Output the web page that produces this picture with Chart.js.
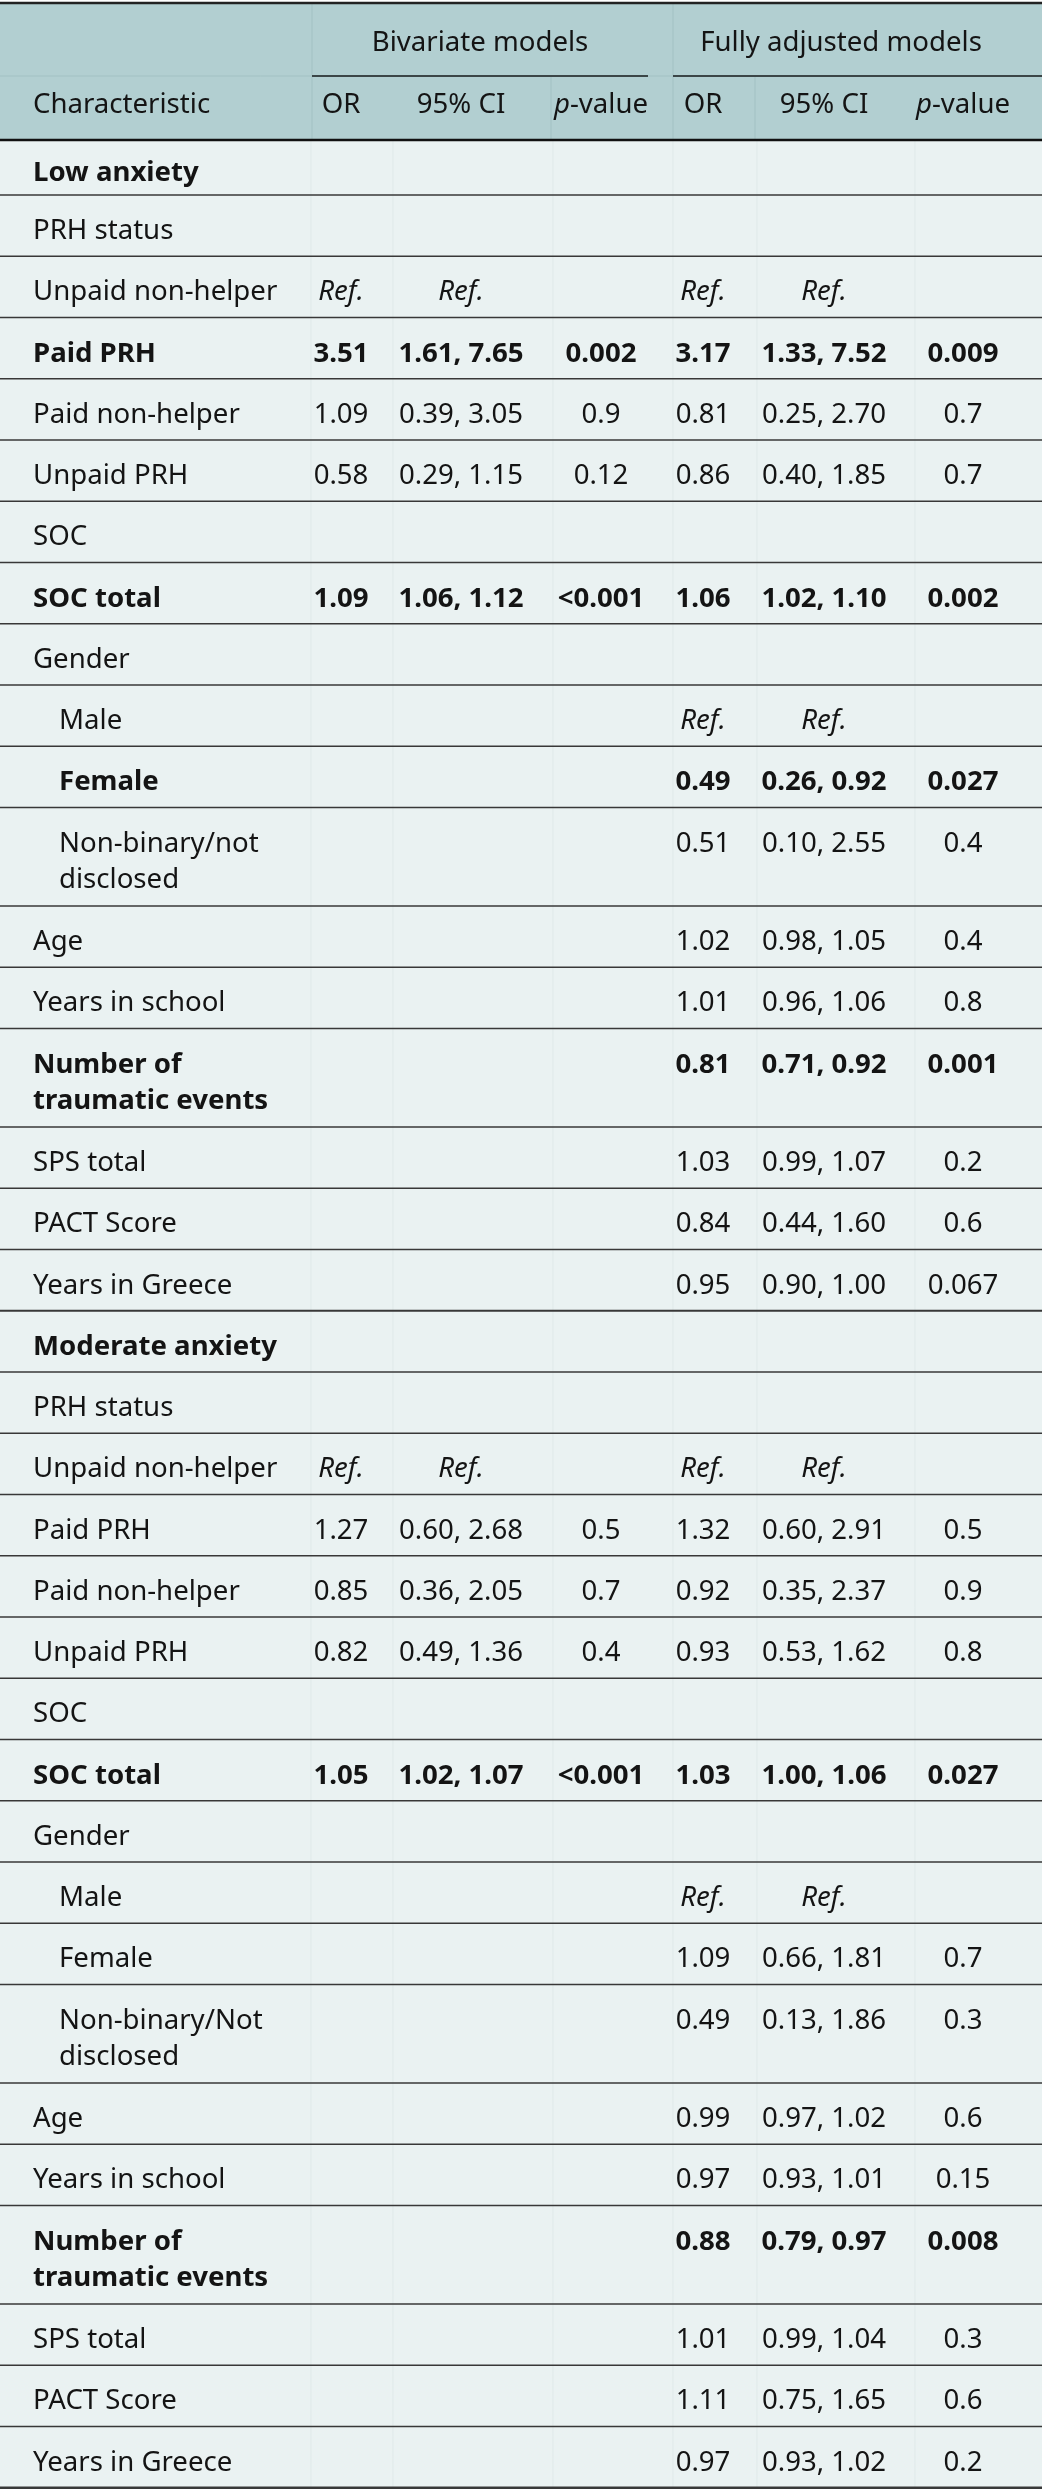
<!DOCTYPE html>
<html>
<head>
<meta charset="utf-8">
<title>Odds ratios for low and moderate anxiety</title>
<script src="https://cdn.jsdelivr.net/npm/chart.js@4.4.1/dist/chart.umd.min.js"></script>
<style>
  html, body { margin: 0; padding: 0; background: #ffffff; }
  #wrap { width: 1042px; height: 2492px; position: relative; }
</style>
</head>
<body>
<div id="wrap"><canvas id="oddsTable"></canvas></div>
<script>
const groupLabels = ['Bivariate models', 'Fully adjusted models'];
const columnLabels = ['OR', '95% CI', 'p-value', 'OR', '95% CI', 'p-value'];
const firstColumnLabel = 'Characteristic';

const characteristics = [
  'Low anxiety', 'PRH status', 'Unpaid non-helper', 'Paid PRH', 'Paid non-helper', 'Unpaid PRH',
  'SOC', 'SOC total', 'Gender', 'Male', 'Female', 'Non-binary/not disclosed', 'Age',
  'Years in school', 'Number of traumatic events', 'SPS total', 'PACT Score', 'Years in Greece',
  'Moderate anxiety', 'PRH status', 'Unpaid non-helper', 'Paid PRH', 'Paid non-helper', 'Unpaid PRH',
  'SOC', 'SOC total', 'Gender', 'Male', 'Female', 'Non-binary/Not disclosed', 'Age',
  'Years in school', 'Number of traumatic events', 'SPS total', 'PACT Score', 'Years in Greece'
];
// 0 = outcome heading, 1 = variable, 2 = level nested under Gender
const rowLevel = [0, 1, 1, 1, 1, 1, 1, 1, 1, 2, 2, 2, 1, 1, 1, 1, 1, 1,
                  0, 1, 1, 1, 1, 1, 1, 1, 1, 2, 2, 2, 1, 1, 1, 1, 1, 1];

const bivOR = ['', '', 'Ref.', '3.51', '1.09', '0.58', '', '1.09', '', '', '', '', '', '', '', '', '', '',
               '', '', 'Ref.', '1.27', '0.85', '0.82', '', '1.05', '', '', '', '', '', '', '', '', '', ''];
const bivCI = ['', '', 'Ref.', '1.61, 7.65', '0.39, 3.05', '0.29, 1.15', '', '1.06, 1.12', '', '', '', '', '', '', '', '', '', '',
               '', '', 'Ref.', '0.60, 2.68', '0.36, 2.05', '0.49, 1.36', '', '1.02, 1.07', '', '', '', '', '', '', '', '', '', ''];
const bivP = ['', '', '', '0.002', '0.9', '0.12', '', '<0.001', '', '', '', '', '', '', '', '', '', '',
              '', '', '', '0.5', '0.7', '0.4', '', '<0.001', '', '', '', '', '', '', '', '', '', ''];

const adjOR = ['', '', 'Ref.', '3.17', '0.81', '0.86', '', '1.06', '', 'Ref.', '0.49', '0.51', '1.02', '1.01', '0.81', '1.03', '0.84', '0.95',
               '', '', 'Ref.', '1.32', '0.92', '0.93', '', '1.03', '', 'Ref.', '1.09', '0.49', '0.99', '0.97', '0.88', '1.01', '1.11', '0.97'];
const adjCI = ['', '', 'Ref.', '1.33, 7.52', '0.25, 2.70', '0.40, 1.85', '', '1.02, 1.10', '', 'Ref.', '0.26, 0.92', '0.10, 2.55',
               '0.98, 1.05', '0.96, 1.06', '0.71, 0.92', '0.99, 1.07', '0.44, 1.60', '0.90, 1.00',
               '', '', 'Ref.', '0.60, 2.91', '0.35, 2.37', '0.53, 1.62', '', '1.00, 1.06', '', 'Ref.', '0.66, 1.81', '0.13, 1.86',
               '0.97, 1.02', '0.93, 1.01', '0.79, 0.97', '0.99, 1.04', '0.75, 1.65', '0.93, 1.02'];
const adjP = ['', '', '', '0.009', '0.7', '0.7', '', '0.002', '', '', '0.027', '0.4', '0.4', '0.8', '0.001', '0.2', '0.6', '0.067',
              '', '', '', '0.5', '0.9', '0.8', '', '0.027', '', '', '0.7', '0.3', '0.6', '0.15', '0.008', '0.3', '0.6', '0.2'];

const valueColumns = [bivOR, bivCI, bivP, adjOR, adjCI, adjP];

// ---- layout (design units = pixels of the 1042 x 2492 page) ----
const W = 1042, H = 2492;
const FONT_FAMILY = '"Noto Sans", "Open Sans", sans-serif';
const FONT_SIZE = 27.6;
const colCenters = [341, 461, 601, 703, 824, 963];
const labelX = [33, 33, 59];
const firstColRight = 311;
const groupSpans = [[312, 648], [673, 1042]];
const groupCenters = [480, 841];
const headerMid = 76, headerBottom = 140;
const firstRowH = 55, singleRowH = 61.25, extraLineH = 37.25, lineStep = 36;

const HEADER_BG = '#b2cfd1';
const BODY_BG = '#eaf2f2';
const TEXT = '#141414';

function font(weight, style) {
  return `${style || 'normal'} ${weight} ${FONT_SIZE}px ${FONT_FAMILY}`;
}

// a row is bold when it is an outcome heading or the adjusted p-value is below 0.05
function isBold(i) {
  if (rowLevel[i] === 0) return true;
  const p = adjP[i];
  if (!p) return false;
  return p.startsWith('<') || parseFloat(p) < 0.05;
}

// wrap the characteristic labels the way the first column does
const measureCtx = document.createElement('canvas').getContext('2d');
function wrapLabel(text, fontStr, maxWidth) {
  measureCtx.font = fontStr;
  const words = text.split(' ');
  const lines = [];
  let cur = '';
  words.forEach(w => {
    const test = cur ? cur + ' ' + w : w;
    if (cur && measureCtx.measureText(test).width > maxWidth) {
      lines.push(cur);
      cur = w;
    } else {
      cur = test;
    }
  });
  lines.push(cur);
  return lines;
}

const labelLines = characteristics.map((c, i) =>
  wrapLabel(c, font(isBold(i) ? 'bold' : 'normal'), firstColRight - labelX[rowLevel[i]] - 8));

// row tops and heights
const rowTops = [];
const rowHeights = [];
let yCursor = headerBottom;
labelLines.forEach((lines, i) => {
  const h = (i === 0 ? firstRowH : singleRowH) + (lines.length - 1) * extraLineH;
  rowTops.push(yCursor);
  rowHeights.push(h);
  yCursor += h;
});
const tableBottom = yCursor;

function firstBaseline(i) {
  const n = labelLines[i].length;
  return rowTops[i] + rowHeights[i] / 2 + 13.5 - (n - 1) * lineStep / 2;
}

// one invisible point per cell; the plugin writes each cell's text at its point
const labelDataset = {
  label: 'Characteristic',
  data: characteristics.map((c, i) => ({ x: labelX[rowLevel[i]], y: firstBaseline(i) })),
  pointRadius: 0
};
const valueDatasets = valueColumns.map((col, k) => ({
  label: columnLabels[k],
  data: col.map((v, i) => ({ x: colCenters[k], y: firstBaseline(i) })),
  pointRadius: 0
}));

const tablePlugin = {
  id: 'tablePlugin',
  beforeDatasetsDraw(chart) {
    const { ctx, scales: { x, y } } = chart;
    const px = v => x.getPixelForValue(v);
    const py = v => y.getPixelForValue(v);
    ctx.save();

    // backgrounds
    ctx.fillStyle = '#ffffff';
    ctx.fillRect(px(0), py(0), px(W) - px(0), py(H) - py(0));
    ctx.fillStyle = HEADER_BG;
    ctx.fillRect(px(0), py(3), px(W) - px(0), py(headerBottom) - py(3));
    ctx.fillStyle = BODY_BG;
    ctx.fillRect(px(0), py(headerBottom), px(W) - px(0), py(tableBottom) - py(headerBottom));

    function hline(x0, x1, yy, w, color) {
      ctx.beginPath();
      ctx.strokeStyle = color;
      ctx.lineWidth = w;
      ctx.moveTo(px(x0), py(yy));
      ctx.lineTo(px(x1), py(yy));
      ctx.stroke();
    }
    function vline(xx, y0, y1, w, color) {
      ctx.beginPath();
      ctx.strokeStyle = color;
      ctx.lineWidth = w;
      ctx.moveTo(px(xx), py(y0));
      ctx.lineTo(px(xx), py(y1));
      ctx.stroke();
    }

    // faint cell borders
    hline(0, W, headerMid, 1, '#a2c1c3');
    [312, 673].forEach(xx => vline(xx, 4, headerBottom, 1, '#a2c1c3'));
    [551, 755].forEach(xx => vline(xx, headerMid, headerBottom, 1, '#a2c1c3'));
    [311, 393, 553, 673, 757, 915].forEach(xx => vline(xx, headerBottom, tableBottom, 1, '#dfe9e9'));

    // rules
    hline(0, W, 3, 2.5, '#222222');
    groupSpans.forEach(([a, b]) => hline(a, b, headerMid, 2, '#3b4647'));
    rowTops.forEach((t, i) => {
      const bottom = t + rowHeights[i];
      let w = 1.5;
      if (i === rowTops.length - 1) w = 2.5;
      else if (rowLevel[i + 1] === 0) w = 2.2;
      hline(0, W, bottom, w, '#383838');
    });
    hline(0, W, headerBottom, 2.5, '#111111');

    // header text
    ctx.fillStyle = TEXT;
    ctx.textBaseline = 'alphabetic';
    ctx.font = font('normal');
    ctx.textAlign = 'center';
    groupLabels.forEach((g, k) => ctx.fillText(g, px(groupCenters[k]), py(51)));
    ctx.textAlign = 'left';
    ctx.fillText(firstColumnLabel, px(labelX[0]), py(113));
    columnLabels.forEach((c, k) => {
      const cx = px(colCenters[k]);
      if (c.startsWith('p-')) {
        // italic p, upright "-value"
        ctx.font = font('normal', 'italic');
        const wp = ctx.measureText('p').width;
        ctx.font = font('normal');
        const wr = ctx.measureText(c.slice(1)).width;
        const start = cx - (wp + wr) / 2;
        ctx.textAlign = 'left';
        ctx.font = font('normal', 'italic');
        ctx.fillText('p', start, py(113));
        ctx.font = font('normal');
        ctx.fillText(c.slice(1), start + wp, py(113));
      } else {
        ctx.textAlign = 'center';
        ctx.font = font('normal');
        ctx.fillText(c, cx, py(113));
      }
    });
    ctx.restore();
  },
  afterDatasetsDraw(chart) {
    const { ctx, scales: { y } } = chart;
    const step = y.getPixelForValue(lineStep) - y.getPixelForValue(0);
    ctx.save();
    ctx.fillStyle = TEXT;
    ctx.textBaseline = 'alphabetic';

    // characteristic labels
    chart.getDatasetMeta(0).data.forEach((pt, i) => {
      ctx.font = font(isBold(i) ? 'bold' : 'normal');
      ctx.textAlign = 'left';
      labelLines[i].forEach((line, j) => ctx.fillText(line, pt.x, pt.y + step * j));
    });

    // values
    valueColumns.forEach((col, k) => {
      chart.getDatasetMeta(k + 1).data.forEach((pt, i) => {
        const v = col[i];
        if (!v) return;
        ctx.textAlign = 'center';
        ctx.font = v === 'Ref.' ? font('normal', 'italic') : font(isBold(i) ? 'bold' : 'normal');
        ctx.fillText(v, pt.x, pt.y);
      });
    });
    ctx.restore();
  }
};

const oddsChart = new Chart(document.getElementById('oddsTable'), {
  type: 'scatter',
  data: { datasets: [labelDataset, ...valueDatasets] },
  options: {
    responsive: true,
    maintainAspectRatio: false,
    animation: false,
    events: [],
    layout: { padding: 0 },
    plugins: { legend: { display: false }, tooltip: { enabled: false } },
    scales: {
      x: { type: 'linear', min: 0, max: W, display: false },
      y: { type: 'linear', min: 0, max: H, reverse: true, display: false }
    }
  },
  plugins: [tablePlugin]
});
</script>
</body>
</html>
